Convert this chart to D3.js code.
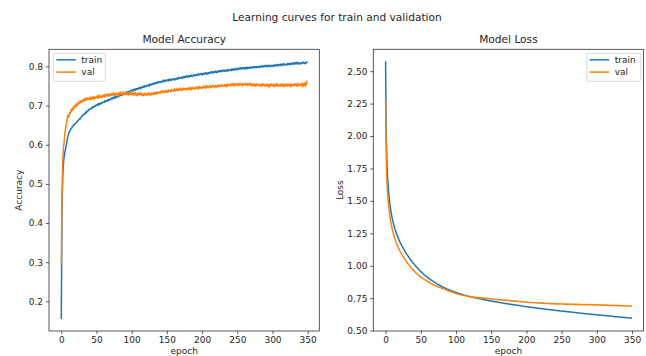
<!DOCTYPE html>
<html><head><meta charset="utf-8">
<script src="https://cdn.jsdelivr.net/npm/d3@7"></script>
<style>
body{margin:0;background:#fff}
svg{display:block}
text{font-family:"DejaVu Sans",sans-serif;fill:#262626}
</style>
</head><body>
<svg id="chart" width="646" height="356"></svg>
<script>
const seriesNames = ["train", "val"];
const xTicks = [0, 50, 100, 150, 200, 250, 300, 350];
const xTickLabels = ["0", "50", "100", "150", "200", "250", "300", "350"];
const accTicks = [0.2, 0.3, 0.4, 0.5, 0.6, 0.7, 0.8];
const accTickLabels = ["0.2", "0.3", "0.4", "0.5", "0.6", "0.7", "0.8"];
const lossTicks = [0.5, 0.75, 1.0, 1.25, 1.5, 1.75, 2.0, 2.25, 2.5];
const lossTickLabels = ["0.50", "0.75", "1.00", "1.25", "1.50", "1.75", "2.00", "2.25", "2.50"];

const trainAcc = [
0.157,0.440,0.515,0.550,0.568,0.580,0.589,0.598,0.608,0.618,
0.626,0.631,0.635,0.638,0.642,0.643,0.647,0.648,0.651,0.652,
0.654,0.657,0.657,0.661,0.662,0.664,0.667,0.666,0.670,0.672,
0.674,0.677,0.676,0.680,0.679,0.684,0.682,0.687,0.686,0.690,
0.690,0.692,0.691,0.695,0.694,0.697,0.695,0.699,0.698,0.701,
0.701,0.703,0.700,0.705,0.703,0.706,0.704,0.707,0.706,0.709,
0.709,0.708,0.712,0.710,0.713,0.711,0.715,0.713,0.716,0.714,
0.717,0.719,0.716,0.720,0.719,0.722,0.718,0.723,0.721,0.724,
0.724,0.722,0.726,0.725,0.728,0.726,0.729,0.727,0.731,0.729,
0.731,0.733,0.730,0.735,0.733,0.736,0.734,0.737,0.735,0.739,
0.738,0.740,0.737,0.741,0.742,0.739,0.743,0.741,0.744,0.742,
0.744,0.746,0.743,0.747,0.745,0.748,0.746,0.750,0.747,0.751,
0.750,0.748,0.752,0.751,0.753,0.750,0.755,0.752,0.754,0.756,
0.754,0.757,0.755,0.758,0.756,0.759,0.757,0.761,0.758,0.760,
0.761,0.759,0.762,0.760,0.763,0.765,0.761,0.764,0.762,0.765,
0.764,0.766,0.763,0.767,0.765,0.768,0.764,0.767,0.766,0.769,
0.767,0.765,0.769,0.768,0.770,0.767,0.771,0.769,0.772,0.770,
0.771,0.773,0.769,0.772,0.774,0.771,0.775,0.773,0.776,0.772,
0.774,0.776,0.773,0.777,0.775,0.778,0.774,0.777,0.779,0.776,
0.778,0.776,0.780,0.777,0.779,0.781,0.778,0.780,0.782,0.779,
0.781,0.779,0.783,0.780,0.782,0.784,0.781,0.783,0.780,0.784,
0.782,0.785,0.783,0.786,0.784,0.787,0.783,0.786,0.785,0.788,
0.786,0.784,0.788,0.786,0.789,0.787,0.790,0.786,0.789,0.788,
0.791,0.788,0.790,0.787,0.791,0.789,0.792,0.788,0.791,0.790,
0.792,0.789,0.793,0.791,0.794,0.790,0.793,0.792,0.795,0.791,
0.793,0.795,0.792,0.796,0.794,0.797,0.793,0.796,0.794,0.797,
0.795,0.793,0.797,0.795,0.798,0.794,0.797,0.796,0.799,0.795,
0.797,0.799,0.796,0.798,0.800,0.796,0.799,0.797,0.800,0.798,
0.799,0.797,0.801,0.798,0.800,0.802,0.798,0.801,0.799,0.802,
0.800,0.803,0.799,0.802,0.800,0.803,0.801,0.799,0.803,0.801,
0.802,0.800,0.804,0.801,0.803,0.805,0.801,0.804,0.802,0.805,
0.803,0.806,0.802,0.805,0.803,0.807,0.804,0.806,0.803,0.805,
0.806,0.804,0.808,0.805,0.807,0.804,0.808,0.806,0.809,0.805,
0.807,0.810,0.806,0.809,0.807,0.811,0.806,0.809,0.808,0.806,
0.809,0.807,0.810,0.808,0.811,0.809,0.807,0.810,0.809,0.811
];

const valAcc = [
0.295,0.470,0.555,0.590,0.605,0.628,0.640,0.652,0.660,0.672,
0.676,0.671,0.682,0.680,0.690,0.686,0.694,0.690,0.699,0.695,
0.700,0.704,0.698,0.706,0.703,0.709,0.705,0.712,0.707,0.713,
0.710,0.715,0.711,0.718,0.713,0.716,0.720,0.714,0.719,0.716,
0.718,0.722,0.715,0.720,0.717,0.723,0.719,0.716,0.722,0.720,
0.721,0.725,0.718,0.723,0.727,0.720,0.724,0.721,0.726,0.722,
0.724,0.728,0.722,0.726,0.729,0.723,0.727,0.730,0.724,0.728,
0.727,0.731,0.725,0.729,0.733,0.726,0.730,0.727,0.732,0.728,
0.730,0.726,0.733,0.728,0.735,0.729,0.732,0.727,0.736,0.730,
0.731,0.727,0.734,0.729,0.733,0.726,0.732,0.729,0.735,0.728,
0.729,0.733,0.726,0.731,0.728,0.734,0.727,0.730,0.725,0.732,
0.730,0.727,0.733,0.728,0.731,0.726,0.729,0.725,0.732,0.728,
0.729,0.726,0.731,0.727,0.733,0.728,0.730,0.726,0.732,0.729,
0.731,0.728,0.734,0.730,0.733,0.729,0.735,0.731,0.734,0.732,
0.735,0.732,0.737,0.733,0.738,0.734,0.736,0.733,0.739,0.735,
0.737,0.734,0.740,0.736,0.738,0.735,0.741,0.737,0.739,0.736,
0.740,0.743,0.737,0.741,0.739,0.744,0.738,0.742,0.740,0.745,
0.741,0.738,0.743,0.740,0.745,0.741,0.743,0.739,0.744,0.742,
0.744,0.741,0.746,0.742,0.745,0.740,0.747,0.743,0.745,0.742,
0.746,0.743,0.748,0.744,0.747,0.742,0.749,0.745,0.747,0.744,
0.747,0.745,0.750,0.746,0.749,0.744,0.751,0.747,0.749,0.745,
0.748,0.751,0.746,0.750,0.747,0.752,0.748,0.750,0.746,0.751,
0.750,0.747,0.752,0.749,0.753,0.748,0.751,0.749,0.754,0.750,
0.752,0.749,0.754,0.750,0.753,0.748,0.755,0.751,0.753,0.750,
0.753,0.756,0.751,0.755,0.752,0.757,0.750,0.754,0.752,0.756,
0.754,0.751,0.756,0.752,0.757,0.753,0.755,0.750,0.756,0.753,
0.755,0.752,0.757,0.753,0.756,0.751,0.755,0.753,0.758,0.752,
0.754,0.750,0.756,0.752,0.755,0.749,0.754,0.751,0.756,0.753,
0.753,0.750,0.755,0.751,0.754,0.749,0.756,0.752,0.754,0.750,
0.753,0.749,0.755,0.751,0.754,0.747,0.753,0.750,0.756,0.751,
0.753,0.750,0.755,0.748,0.754,0.751,0.756,0.749,0.753,0.750,
0.752,0.755,0.749,0.754,0.751,0.756,0.748,0.753,0.750,0.755,
0.753,0.749,0.755,0.751,0.754,0.748,0.756,0.750,0.753,0.751,
0.754,0.750,0.756,0.752,0.755,0.749,0.757,0.751,0.754,0.752,
0.755,0.751,0.757,0.748,0.756,0.752,0.758,0.750,0.754,0.762
];

const trainLoss = [
2.570,2.000,1.790,1.670,1.590,1.530,1.482,1.442,1.408,1.378,
1.352,1.329,1.308,1.289,1.272,1.256,1.241,1.227,1.213,1.200,
1.188,1.177,1.166,1.155,1.145,1.135,1.126,1.116,1.107,1.098,
1.090,1.082,1.074,1.065,1.058,1.050,1.043,1.036,1.029,1.022,
1.015,1.009,1.003,0.996,0.990,0.984,0.978,0.973,0.967,0.961,
0.956,0.951,0.946,0.941,0.936,0.931,0.927,0.922,0.918,0.913,
0.909,0.905,0.901,0.897,0.893,0.889,0.885,0.882,0.878,0.875,
0.871,0.868,0.865,0.861,0.858,0.855,0.852,0.849,0.846,0.843,
0.840,0.837,0.835,0.832,0.830,0.827,0.825,0.822,0.820,0.817,
0.815,0.813,0.811,0.808,0.806,0.804,0.802,0.800,0.798,0.796,
0.794,0.792,0.790,0.789,0.787,0.785,0.783,0.782,0.780,0.778,
0.777,0.775,0.774,0.772,0.771,0.769,0.768,0.766,0.765,0.763,
0.762,0.761,0.759,0.758,0.757,0.756,0.755,0.753,0.752,0.751,
0.750,0.749,0.748,0.747,0.745,0.744,0.743,0.742,0.741,0.740,
0.739,0.737,0.736,0.735,0.734,0.733,0.732,0.731,0.730,0.729,
0.728,0.727,0.726,0.725,0.724,0.723,0.722,0.721,0.720,0.720,
0.719,0.718,0.717,0.716,0.715,0.714,0.713,0.712,0.711,0.710,
0.710,0.709,0.708,0.707,0.706,0.705,0.704,0.703,0.703,0.702,
0.701,0.700,0.699,0.699,0.698,0.697,0.696,0.695,0.695,0.694,
0.693,0.692,0.691,0.691,0.690,0.689,0.688,0.687,0.687,0.686,
0.685,0.684,0.684,0.683,0.682,0.681,0.681,0.680,0.679,0.678,
0.678,0.677,0.676,0.675,0.675,0.674,0.673,0.672,0.672,0.671,
0.670,0.670,0.669,0.668,0.668,0.667,0.666,0.666,0.665,0.664,
0.664,0.663,0.662,0.662,0.661,0.661,0.660,0.659,0.659,0.658,
0.657,0.657,0.656,0.655,0.655,0.654,0.654,0.653,0.652,0.652,
0.651,0.650,0.650,0.649,0.649,0.648,0.647,0.647,0.646,0.646,
0.645,0.644,0.644,0.643,0.643,0.642,0.641,0.641,0.640,0.640,
0.639,0.638,0.638,0.637,0.637,0.636,0.635,0.635,0.634,0.634,
0.633,0.633,0.632,0.631,0.631,0.630,0.630,0.629,0.629,0.628,
0.628,0.627,0.626,0.626,0.625,0.625,0.624,0.624,0.623,0.623,
0.622,0.621,0.621,0.620,0.620,0.619,0.619,0.618,0.618,0.617,
0.617,0.616,0.616,0.615,0.615,0.614,0.614,0.613,0.613,0.612,
0.612,0.611,0.611,0.610,0.610,0.609,0.608,0.608,0.607,0.607,
0.606,0.606,0.605,0.605,0.604,0.604,0.603,0.603,0.602,0.602,
0.601,0.601,0.600,0.600,0.599,0.599,0.598,0.598,0.597,0.596
];

const valLoss = [
2.280,1.820,1.640,1.545,1.480,1.430,1.388,1.352,1.321,1.294,
1.270,1.249,1.230,1.212,1.196,1.181,1.167,1.154,1.142,1.130,
1.119,1.108,1.098,1.088,1.079,1.070,1.061,1.053,1.045,1.037,
1.030,1.022,1.015,1.008,1.001,0.994,0.987,0.981,0.975,0.969,
0.963,0.957,0.952,0.946,0.941,0.936,0.931,0.927,0.922,0.918,
0.914,0.910,0.906,0.902,0.898,0.895,0.891,0.888,0.885,0.881,
0.878,0.875,0.872,0.869,0.866,0.863,0.860,0.857,0.855,0.852,
0.849,0.847,0.844,0.842,0.840,0.837,0.835,0.833,0.831,0.829,
0.827,0.824,0.822,0.820,0.818,0.816,0.814,0.812,0.810,0.808,
0.806,0.804,0.802,0.800,0.798,0.796,0.794,0.792,0.790,0.788,
0.786,0.785,0.783,0.782,0.781,0.779,0.778,0.777,0.775,0.774,
0.773,0.772,0.770,0.769,0.768,0.767,0.766,0.765,0.764,0.763,
0.762,0.761,0.760,0.759,0.758,0.757,0.756,0.756,0.755,0.755,
0.754,0.755,0.753,0.753,0.752,0.753,0.751,0.751,0.750,0.751,
0.749,0.749,0.748,0.749,0.747,0.747,0.746,0.747,0.745,0.745,
0.744,0.745,0.743,0.743,0.742,0.743,0.741,0.741,0.740,0.741,
0.739,0.740,0.738,0.738,0.737,0.738,0.736,0.736,0.735,0.736,
0.734,0.735,0.733,0.734,0.732,0.733,0.731,0.732,0.730,0.731,
0.729,0.730,0.728,0.729,0.727,0.728,0.726,0.727,0.725,0.726,
0.724,0.725,0.723,0.724,0.722,0.723,0.721,0.722,0.720,0.721,
0.719,0.719,0.718,0.719,0.717,0.718,0.716,0.717,0.716,0.717,
0.715,0.716,0.715,0.716,0.714,0.715,0.713,0.714,0.713,0.714,
0.712,0.713,0.712,0.713,0.711,0.712,0.710,0.711,0.710,0.711,
0.709,0.710,0.709,0.710,0.708,0.709,0.708,0.709,0.707,0.708,
0.707,0.708,0.706,0.707,0.706,0.707,0.705,0.706,0.706,0.707,
0.706,0.705,0.706,0.704,0.705,0.704,0.706,0.704,0.705,0.703,
0.704,0.703,0.705,0.703,0.704,0.702,0.704,0.703,0.702,0.703,
0.702,0.703,0.701,0.703,0.702,0.701,0.702,0.700,0.702,0.701,
0.702,0.700,0.701,0.700,0.702,0.700,0.701,0.699,0.700,0.701,
0.699,0.700,0.699,0.701,0.698,0.700,0.699,0.698,0.700,0.698,
0.699,0.698,0.699,0.697,0.698,0.699,0.697,0.698,0.696,0.697,
0.698,0.696,0.697,0.695,0.696,0.697,0.695,0.694,0.696,0.695,
0.694,0.695,0.694,0.695,0.693,0.694,0.695,0.693,0.694,0.692,
0.693,0.694,0.692,0.693,0.691,0.692,0.693,0.691,0.692,0.690,
0.691,0.692,0.690,0.691,0.692,0.690,0.691,0.689,0.690,0.689
];

const colors = ["#1f77b4", "#ff7f0e"];
const svg = d3.select("#chart");

svg.append("text")
  .attr("x", 337).attr("y", 20.5)
  .attr("text-anchor", "middle")
  .style("font-size", "10.6px")
  .text("Learning curves for train and validation");

function panel(cfg) {
  const n = cfg.series[0].length;
  const x = d3.scaleLinear()
    .domain([-(n - 1) * 0.05, (n - 1) * 1.05])
    .range([cfg.left, cfg.right]);
  const all = cfg.series[0].concat(cfg.series[1]);
  const lo = d3.min(all), hi = d3.max(all), pad = (hi - lo) * 0.05;
  const y = d3.scaleLinear().domain([lo - pad, hi + pad]).range([cfg.bottom, cfg.top]);

  const g = svg.append("g");
  const clipId = "clip" + cfg.id;
  svg.append("clipPath").attr("id", clipId).append("rect")
    .attr("x", cfg.left).attr("y", cfg.top)
    .attr("width", cfg.right - cfg.left).attr("height", cfg.bottom - cfg.top);

  const line = d3.line().x((d, i) => x(i)).y(d => y(d));
  cfg.series.forEach((s, k) => {
    g.append("path").datum(s)
      .attr("clip-path", "url(#" + clipId + ")")
      .attr("fill", "none")
      .attr("stroke", colors[k])
      .attr("stroke-width", 1.5)
      .attr("stroke-linejoin", "round")
      .attr("stroke-linecap", "square")
      .attr("d", line);
  });

  const xAxis = g.append("g").attr("transform", `translate(0,${cfg.bottom})`)
    .call(d3.axisBottom(x).tickValues(xTicks).tickFormat((d, i) => xTickLabels[i])
      .tickSize(3.1).tickPadding(3));
  const yAxis = g.append("g").attr("transform", `translate(${cfg.left},0)`)
    .call(d3.axisLeft(y).tickValues(cfg.yTicks).tickFormat((d, i) => cfg.yLabels[i])
      .tickSize(3.1).tickPadding(2.8));
  [xAxis, yAxis].forEach(a => {
    a.select(".domain").remove();
    a.selectAll("line").attr("stroke", "#333").attr("stroke-width", 0.8);
    a.selectAll("text").style("font-size", "9px").attr("fill", "#262626")
      .style("font-family", "'DejaVu Sans', sans-serif");
  });

  g.append("rect")
    .attr("x", cfg.left).attr("y", cfg.top)
    .attr("width", cfg.right - cfg.left).attr("height", cfg.bottom - cfg.top)
    .attr("fill", "none").attr("stroke", "#333").attr("stroke-width", 0.8);

  g.append("text")
    .attr("x", (cfg.left + cfg.right) / 2).attr("y", 43)
    .attr("text-anchor", "middle").style("font-size", "10.6px")
    .text(cfg.title);

  g.append("text")
    .attr("x", (cfg.left + cfg.right) / 2).attr("y", 353.5)
    .attr("text-anchor", "middle").style("font-size", "9px")
    .text("epoch");

  g.append("text")
    .attr("transform", `translate(${cfg.ylabelX},${(cfg.top + cfg.bottom) / 2}) rotate(-90)`)
    .attr("text-anchor", "middle").style("font-size", "9px")
    .text(cfg.ylabel);

  const lg = g.append("g").attr("transform", `translate(${cfg.legendX},${cfg.top + 4})`);
  lg.append("rect").attr("x", 0).attr("y", 0)
    .attr("width", cfg.legendW).attr("height", 28).attr("rx", 2)
    .attr("fill", "#fff").attr("fill-opacity", 0.8)
    .attr("stroke", "#d0d0d0").attr("stroke-width", 0.8);
  seriesNames.forEach((name, k) => {
    const yy = 6.5 + k * 12.3;
    lg.append("line").attr("x1", 3).attr("x2", 22.5).attr("y1", yy).attr("y2", yy)
      .attr("stroke", colors[k]).attr("stroke-width", 1.5);
    lg.append("text").attr("x", 28).attr("y", yy + 3.3)
      .style("font-size", "9px").text(name);
  });
}

panel({
  id: "acc", left: 49, right: 319.3, top: 49.3, bottom: 331,
  series: [trainAcc, valAcc], yTicks: accTicks, yLabels: accTickLabels,
  title: "Model Accuracy", ylabel: "Accuracy", ylabelX: 21.5,
  legendX: 53.3, legendW: 52
});
panel({
  id: "loss", left: 373.3, right: 643.6, top: 49.3, bottom: 331,
  series: [trainLoss, valLoss], yTicks: lossTicks, yLabels: lossTickLabels,
  title: "Model Loss", ylabel: "Loss", ylabelX: 342.5,
  legendX: 586.7, legendW: 54
});
</script>
</body></html>
